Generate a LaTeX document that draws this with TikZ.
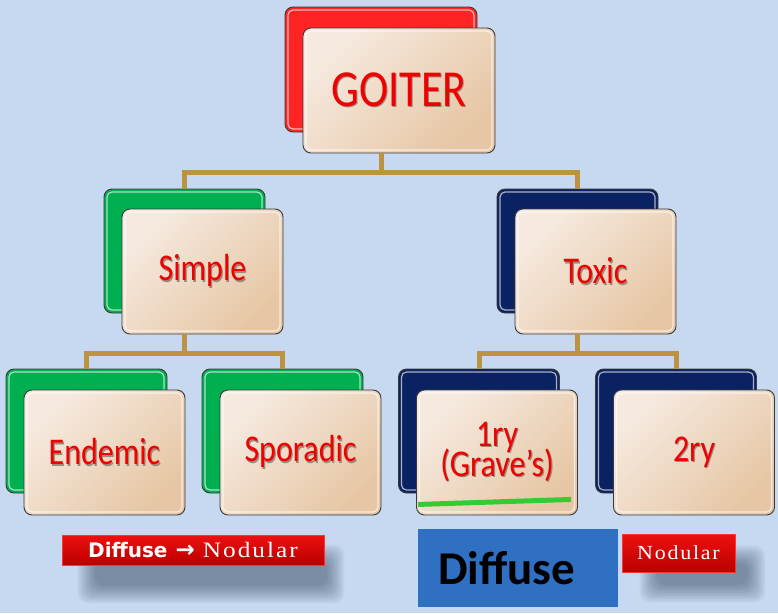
\documentclass[tikz,border=0pt]{standalone}
\usepackage{fontspec}
\setmainfont{Carlito}
\newfontfamily\serfont[LetterSpace=8]{Liberation Serif}
\newfontfamily\dvfont{DejaVu Sans}
\usetikzlibrary{calc}
\pgfdeclarelayer{bglayer}
\pgfsetlayers{bglayer,main}
\definecolor{bg}{HTML}{C6D9F1}
\definecolor{boxlight}{HTML}{F6EAE0}
\definecolor{boxdark}{HTML}{E6C6A4}
\definecolor{edge}{HTML}{3A3A3A}
\definecolor{tred}{HTML}{F00000}
\definecolor{tshadow}{HTML}{9C8A7C}
\definecolor{conncol}{HTML}{BC9340}
\definecolor{backred}{HTML}{FF2424}
\definecolor{backgreen}{HTML}{00B050}
\definecolor{backnavy}{HTML}{0A2262}
\definecolor{bannerlight}{HTML}{EE1010}
\definecolor{bannerdark}{HTML}{B80000}
\definecolor{diffblue}{HTML}{2F70C2}
\definecolor{ulgreen}{HTML}{33CC33}
\definecolor{shadowcol}{HTML}{1A2A44}
\newcommand\shd[1]{\leavevmode\rlap{\hspace{1.2pt}\raisebox{-1.2pt}{\textcolor{tshadow}{#1}}}\textcolor{tred}{#1}}
\newcommand\bt[1]{\scalebox{1}[1.18]{\shd{#1}}}
\newcommand\softshadow[3]{% node, sw offset, ne offset
  \foreach \k in {0,...,11}{
    \fill[shadowcol,opacity=0.045,rounded corners=10pt]
      ($(#1.south west)+(#2)+(1.6*\k,-1.6*\k)$) rectangle ($(#1.north east)+(#3)+(-1.6*\k,1.6*\k)$);
  }}
\tikzset{
  gloss/.style={path picture={\draw[white,line width=1.2pt,opacity=.65,rounded corners=5pt]
     ($(path picture bounding box.south west)+(3,-3)$) rectangle ($(path picture bounding box.north east)+(-3,3)$);}},
  backbox/.style={draw=edge,line width=0.9pt,rounded corners=8pt,minimum width=161pt,minimum height=124pt,inner sep=0pt,fill=#1,gloss},
  frontbox/.style={draw=edge,line width=0.9pt,rounded corners=8pt,minimum width=161pt,minimum height=125pt,inner sep=0pt,
     top color=boxlight,bottom color=boxdark,shading angle=45,gloss,
     font=\fontsize{32}{30}\selectfont,align=center,execute at begin node={\lineskiplimit=-100pt\relax}},
  conn/.style={draw=conncol,line width=5pt},
  banner/.style={draw=red!80!white,line width=0.8pt,top color=bannerlight,bottom color=bannerdark,inner sep=0pt,text=white},
}
\begin{document}
\begin{tikzpicture}[x=1pt,y=-1pt]
\begin{pgfonlayer}{bglayer}
\fill[bg] (0,0) rectangle (778,613);
\end{pgfonlayer}
\useasboundingbox (0,0) rectangle (778,613);
% level 1
\node[backbox=backred,minimum width=192pt,minimum height=125pt] (gb) at (381,69.5) {};
\node[frontbox,minimum width=192pt,font=\fontsize{44}{44}\selectfont] (gf) at (399,90.5) {\bt{GOITER}};
% level 2
\node[backbox=backgreen] (sb) at (184.5,251) {};
\node[frontbox] (sf) at (202.5,271.5) {\bt{Simple}};
\node[backbox=backnavy] (tb) at (577.5,251) {};
\node[frontbox] (tf) at (595.5,271.5) {\bt{Toxic}};
% level 3
\node[backbox=backgreen] (eb) at (86.5,431) {};
\node[frontbox] (ef) at (104.5,452.5) {\bt{Endemic}};
\node[backbox=backgreen] (pb) at (282.5,431) {};
\node[frontbox] (pf) at (300.5,452.5) {\bt{Sporadic}};
\node[backbox=backnavy] (ob) at (479,431) {};
\node[frontbox] (of) at (497,452.5) {\bt{1ry}\\\bt{(Grave’s)}};
\node[backbox=backnavy] (wb) at (676,431) {};
\node[frontbox] (wf) at (694,452.5) {\bt{2ry}};
% connectors
\coordinate (j1) at ($(gb.center |- gf.south)+(0,19)$);
\draw[conn] (gb.center |- gf.south) -- (j1);
\draw[conn] (sb.north) |- (j1) -| (tb.north);
\coordinate (j2) at ($(sb.center |- sf.south)+(0,19)$);
\draw[conn] (sb.center |- sf.south) -- (j2);
\draw[conn] (eb.north) |- (j2) -| (pb.north);
\coordinate (j3) at ($(tb.center |- tf.south)+(0,19)$);
\draw[conn] (tb.center |- tf.south) -- (j3);
\draw[conn] (ob.north) |- (j3) -| (wb.north);
% underline
\coordinate (u1) at ($(of.south west)+(2,-11)$);
\coordinate (u2) at ($(of.south east)+(-7,-16)$);
\draw[ulgreen,line width=5pt] (u1) -- (u2);
% banners
\node[banner,minimum width=262pt,minimum height=30pt] (b1) at (193,550)
  {{\dvfont\bfseries\fontsize{20}{20}\selectfont Diffuse\hspace{8pt}{\fontsize{23}{23}\selectfont→}}\hspace{8pt}{\scalebox{1.15}[1]{\serfont\fontsize{22}{22}\selectfont Nodular}}};
\node[banner,minimum width=113pt,minimum height=38pt] (b2) at (678.5,553)
  {\scalebox{1.1}[1]{\serfont\fontsize{20}{20}\selectfont Nodular}};
\begin{pgfonlayer}{bglayer}
\softshadow{b1}{16,38}{20,10}
\softshadow{b2}{18,30}{30,12}
\end{pgfonlayer}
\node[fill=diffblue,minimum width=200pt,minimum height=78pt,inner xsep=20pt,inner ysep=0pt,text width=160pt,align=left,
  font=\bfseries\fontsize{47}{47}\selectfont] (bd) at (518,568) {Diffuse};
\end{tikzpicture}
\end{document}
